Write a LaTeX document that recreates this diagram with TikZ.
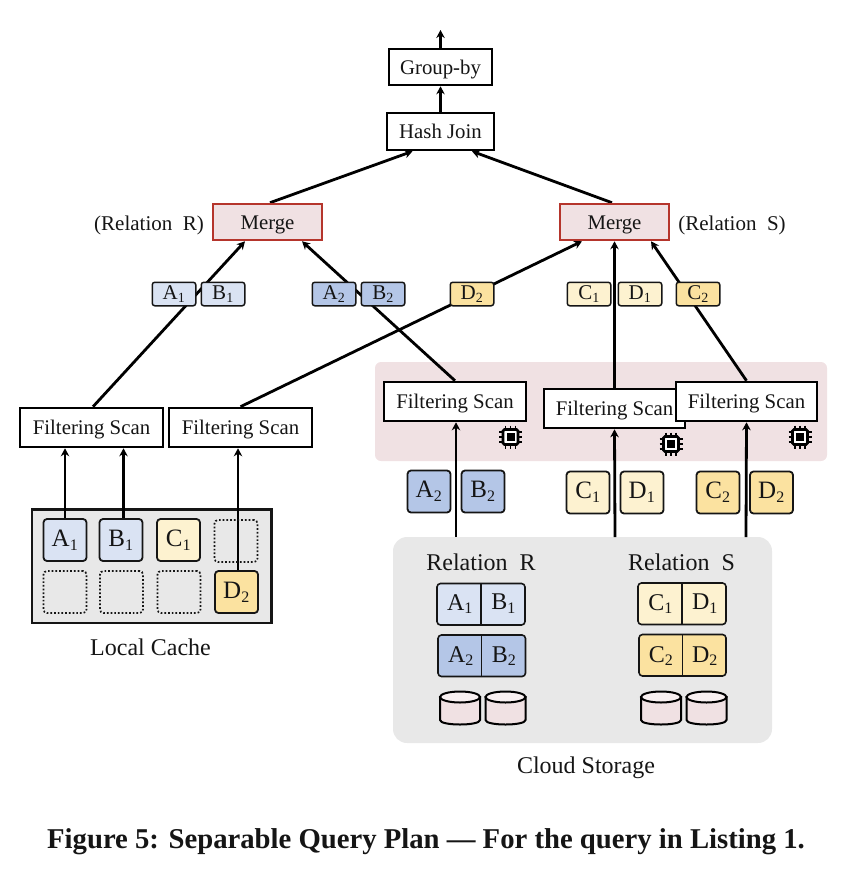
\documentclass[tikz,border=0pt]{standalone}
\usepackage{fontspec}
\setmainfont{Liberation Serif}
\usetikzlibrary{arrows.meta,calc}
\definecolor{lblue}{HTML}{DAE3F3}
\definecolor{dblue}{HTML}{B4C6E7}
\definecolor{lyel}{HTML}{FDF2D0}
\definecolor{dyel}{HTML}{FBE2A0}
\definecolor{pinkbg}{HTML}{F0E1E3}
\definecolor{graybg}{HTML}{E8E8E8}
\definecolor{mred}{HTML}{B5352C}
\definecolor{inkc}{HTML}{151515}
\pgfdeclarelayer{bgl}\pgfdeclarelayer{edgel}
\pgfsetlayers{bgl,edgel,main}
\newcommand{\sbs}[2]{#1\textsubscript{\fontsize{16}{16}\selectfont #2}}
\newcommand{\sbt}[2]{#1\textsubscript{\fontsize{14}{14}\selectfont #2}}
\tikzset{
  txt/.style={font=\fontsize{24}{26}\selectfont,text=inkc,inner sep=0pt,text height=15pt,text depth=0pt},
  opbox/.style={draw=black,line width=2.6pt,fill=white,inner sep=0pt,text=inkc,font=\fontsize{20.8}{22}\selectfont,text height=14.5pt,text depth=0pt},
  mergebox/.style={opbox,draw=mred,fill=pinkbg},
  block/.style={draw=inkc,line width=1.8pt,rounded corners=3.5pt,minimum width=43pt,minimum height=42pt,inner sep=0pt,text=inkc,font=\fontsize{25}{27}\selectfont},
  tag/.style={draw=inkc,line width=1.5pt,rounded corners=2.5pt,minimum width=43.5pt,minimum height=23.5pt,inner sep=0pt,text=inkc,font=\fontsize{21}{23}\selectfont},
  empty/.style={draw=inkc,line width=1.7pt,dotted,rounded corners=3.5pt,minimum width=43pt,minimum height=42pt,inner sep=0pt},
  flow/.style={draw=black,line width=2.8pt,-{Stealth[length=8pt,width=8.5pt]}},
  splitpart/.style={inner sep=0pt,text=inkc,font=\fontsize{24}{26}\selectfont},
  chip/.pic={
    \foreach \d in {-5,0,5}{
      \draw[black,line width=1.8pt] (\d,-11.5) -- (\d,11.5);
      \draw[black,line width=1.8pt] (-11.5,\d) -- (11.5,\d);}
    \fill[white] (-7,-7) rectangle (7,7);
    \draw[black,line width=2.8pt,rounded corners=1.5pt] (-7.5,-7.5) rectangle (7.5,7.5);
    \fill[black] (-4,-4) rectangle (4,4);
  },
  disk/.pic={
    \draw[draw=black,line width=2pt,fill=pinkbg] (-20,-11) -- (-20,12) .. controls (-20,18) and (20,18) .. (20,12) -- (20,-11) -- cycle;
    \draw[draw=black,line width=2pt,fill=pinkbg!50!white] (0,-11) ellipse[x radius=20,y radius=5.5];
  }
}
\begin{document}
\begin{tikzpicture}[x=1pt,y=-1pt]
\useasboundingbox (0,0) rectangle (851,873);
% panels
\begin{pgfonlayer}{bgl}
  \fill[pinkbg,rounded corners=6pt] (375,362) rectangle (827,461);
  \fill[graybg,rounded corners=14pt] (393,537) rectangle (772,743);
  \draw[fill=graybg,draw=inkc,line width=2.2pt] (32,509.5) rectangle (271.5,623);
\end{pgfonlayer}
% operators
\node[opbox,minimum width=103pt,minimum height=36pt] (gb) at (440.5,67) {Group-by};
\node[opbox,minimum width=107pt,minimum height=37pt] (hj) at (440.5,131.5) {Hash Join};
\coordinate (out) at (440.5,30);
\node[mergebox,minimum width=109pt,minimum height=36pt] (mL) at (267.5,222) {Merge};
\node[mergebox,minimum width=109pt,minimum height=36pt] (mR) at (614.5,222) {Merge};
\node[txt,font=\fontsize{21}{22}\selectfont,text height=16pt,text depth=0pt] (rl) at (149,222) {(Relation\ \ R)};
\node[txt,font=\fontsize{21}{22}\selectfont,text height=16pt,text depth=0pt] (sl) at (732,222) {(Relation\ \ S)};
% tags
\node[tag,fill=lblue] (tA1) at (174,294) {\sbt{A}{1}};
\node[tag,fill=lblue] (tB1) at (223,294) {\sbt{B}{1}};
\node[tag,fill=dblue] (tA2) at (334,294) {\sbt{A}{2}};
\node[tag,fill=dblue] (tB2) at (383,294) {\sbt{B}{2}};
\node[tag,fill=dyel] (tD2) at (472,294) {\sbt{D}{2}};
\node[tag,fill=lyel] (tC1) at (589,294) {\sbt{C}{1}};
\node[tag,fill=lyel] (tD1) at (640,294) {\sbt{D}{1}};
\node[tag,fill=dyel] (tC2) at (698,294) {\sbt{C}{2}};
% scans
\node[opbox,minimum width=143pt,minimum height=39pt] (f1) at (91.5,427.5) {Filtering Scan};
\node[opbox,minimum width=143pt,minimum height=39pt] (f2) at (240.5,427.5) {Filtering Scan};
\node[opbox,minimum width=142pt,minimum height=39pt] (f3) at (455,401.5) {Filtering Scan};
\node[opbox,minimum width=141pt,minimum height=39pt] (f4) at (614.5,408.5) {Filtering Scan};
\node[opbox,minimum width=141pt,minimum height=39pt] (f5) at (746.5,401.5) {Filtering Scan};
\pic at (510.5,437) {chip};
\pic at (671,444) {chip};
\pic at (800,437) {chip};
% free blocks
\node[block,fill=dblue] (bA2) at (429,491.5) {\sbs{A}{2}};
\node[block,fill=dblue] (bB2) at (483,491.5) {\sbs{B}{2}};
\node[block,fill=lyel] (bC1) at (588,492.5) {\sbs{C}{1}};
\node[block,fill=lyel] (bD1) at (642,492.5) {\sbs{D}{1}};
\node[block,fill=dyel] (bC2) at (718,492.5) {\sbs{C}{2}};
\node[block,fill=dyel] (bD2) at (771.5,492.5) {\sbs{D}{2}};
% local cache
\node[block,fill=lblue] (cA1) at (65,540) {\sbs{A}{1}};
\node[block,fill=lblue] (cB1) at (121,540) {\sbs{B}{1}};
\node[block,fill=lyel] (cC1) at (178.5,540) {\sbs{C}{1}};
\node[empty] (e1) at (236,541) {};
\node[empty] (e2) at (65,592) {};
\node[empty] (e3) at (121.5,592) {};
\node[empty] (e4) at (179,592) {};
\node[block,fill=dyel] (cD2) at (236.5,592) {\sbs{D}{2}};
\node[txt] (lc) at (150.5,648) {Local Cache};
% cloud
\node[txt] (rr) at (481,563) {Relation\ \ R};
\node[txt] (rs) at (681.5,563) {Relation\ \ S};
\node[txt] (cs) at (586,766) {Cloud Storage};
\draw[fill=lblue,draw=inkc,line width=1.6pt,rounded corners=3.5pt] (437,583.5) rectangle (525,625);
\draw[fill=dblue,draw=inkc,line width=1.6pt,rounded corners=3.5pt] (438,635) rectangle (525.5,676.5);
\draw[fill=lyel,draw=inkc,line width=1.6pt,rounded corners=3.5pt] (638,583) rectangle (726,624.5);
\draw[fill=dyel,draw=inkc,line width=1.6pt,rounded corners=3.5pt] (639,634.5) rectangle (726,676);
\draw[inkc,line width=1.6pt] (481,583.5) -- (481,625) (481.5,635) -- (481.5,676.5) (682,583) -- (682,624.5) (682.5,634.5) -- (682.5,676);
\node[splitpart] (pA1) at (460,604) {\sbs{A}{1}};
\node[splitpart] (pB1) at (503.5,604) {\sbs{B}{1}};
\node[splitpart] (pA2) at (461,656) {\sbs{A}{2}};
\node[splitpart] (pB2) at (504,656) {\sbs{B}{2}};
\node[splitpart] (pC1) at (660.5,604) {\sbs{C}{1}};
\node[splitpart] (pD1) at (705,604) {\sbs{D}{1}};
\node[splitpart] (pC2) at (661,656) {\sbs{C}{2}};
\node[splitpart] (pD2) at (705,656) {\sbs{D}{2}};
\pic at (460,708) {disk};
\pic at (505.5,708) {disk};
\pic at (661,708) {disk};
\pic at (706.5,708) {disk};
\node[font=\bfseries\fontsize{28.7}{30}\selectfont,text=inkc,inner sep=0pt,text height=18pt,text depth=0pt] (cap) at (426,839) {Figure 5: Separable Query Plan — For the query in Listing 1.};
% connection points
\coordinate (hjL) at ($(hj.south)+(-28,0)$);
\coordinate (hjR) at ($(hj.south)+(31.5,0)$);
\coordinate (mLt) at ($(mL.north)+(2.5,0)$);
\coordinate (mRt) at ($(mR.north)+(-2.5,0)$);
\coordinate (mLa) at ($(mL.south)+(-22.5,0)$);
\coordinate (mLb) at ($(mL.south)+(34.5,0)$);
\coordinate (mRa) at ($(mR.south)+(-32.5,0)$);
\coordinate (mRb) at ($(mR.south)+(36.5,0)$);
\begin{pgfonlayer}{edgel}
  \draw[flow] (gb.north) -- (out);
  \draw[flow] (hj.north) -- (gb.south);
  \draw[flow] (mLt) -- (hjL);
  \draw[flow] (mRt) -- (hjR);
  \draw[flow] ($(f1.north)+(1.5,0)$) -- (mLa);
  \draw[flow] (f2.north) -- (mRa);
  \draw[flow] (f3.north) -- (mLb);
  \draw[flow] (f4.north) -- (mR.south);
  \draw[flow] (f5.north) -- (mRb);
  \draw[flow] (456,537) -- (f3.south -| 456,0);
  \draw[flow] (615,537) -- (f4.south);
  \draw[flow] (746,537) -- (f5.south);
  \draw[flow] (cA1.north) -- (cA1.north |- f1.south);
  \draw[flow] ($(cB1.north)+(2.5,0)$) -- ($(cB1.north |- f1.south)+(2.5,0)$);
  \draw[flow] ($(cD2.north)+(1.5,0)$) -- ($(cD2.north |- f2.south)+(1.5,0)$);
\end{pgfonlayer}
\end{tikzpicture}
\end{document}
